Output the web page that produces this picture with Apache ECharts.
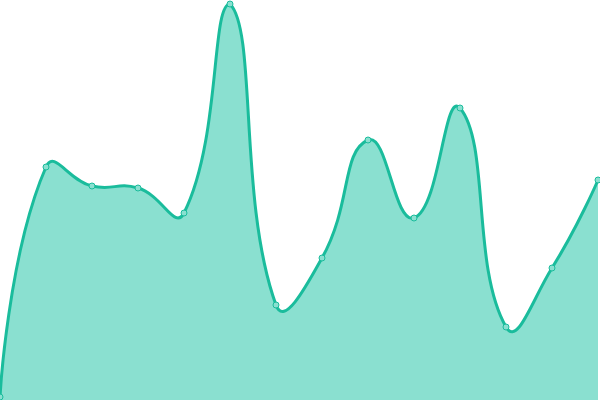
<!DOCTYPE html>
<html>
<head>
<meta charset="utf-8">
<script src="https://cdn.jsdelivr.net/npm/echarts@6/dist/echarts.min.js"></script>
<style>html,body{margin:0;padding:0;background:#fff}#c{width:600px;height:400px}</style>
</head>
<body>
<div id="c"></div>
<script>
var categories = ['1','2','3','4','5','6','7','8','9','10','11','12','13','14'];
var values = [3, 233, 214, 212, 187, 396, 95, 142, 260, 182, 292, 73, 132, 220];

var LINE_COLOR = '#1abc9c';
var AREA_COLOR = '#8ae0d0';
var SMOOTH = 0.5;

// Classic (bounding-box constrained) smooth bezier through pixel points
function smoothPath(pts, smooth) {
  var minX = Infinity, minY = Infinity, maxX = -Infinity, maxY = -Infinity;
  pts.forEach(function (p) {
    minX = Math.min(minX, p[0]); maxX = Math.max(maxX, p[0]);
    minY = Math.min(minY, p[1]); maxY = Math.max(maxY, p[1]);
  });
  function clamp(c) {
    return [Math.max(minX, Math.min(maxX, c[0])), Math.max(minY, Math.min(maxY, c[1]))];
  }
  var d = 'M' + pts[0][0] + ' ' + pts[0][1];
  var cp0 = pts[0].slice();
  for (var k = 1; k < pts.length; k++) {
    var p = pts[k], prev = pts[k - 1], next = pts[k + 1];
    var cp1, vx = 0, vy = 0, ratio = 0.5;
    if (!next) {
      cp1 = p.slice();
    } else {
      vx = next[0] - prev[0]; vy = next[1] - prev[1];
      var l0 = Math.hypot(p[0] - prev[0], p[1] - prev[1]);
      var l1 = Math.hypot(next[0] - p[0], next[1] - p[1]);
      ratio = l1 / (l0 + l1);
      cp1 = [p[0] - vx * smooth * (1 - ratio), p[1] - vy * smooth * (1 - ratio)];
    }
    cp0 = clamp(cp0); cp1 = clamp(cp1);
    d += ' C' + cp0[0] + ' ' + cp0[1] + ' ' + cp1[0] + ' ' + cp1[1] + ' ' + p[0] + ' ' + p[1];
    cp0 = [p[0] + vx * smooth * ratio, p[1] + vy * smooth * ratio];
  }
  return d;
}

var chart = echarts.init(document.getElementById('c'));
chart.setOption({
  animation: false,
  grid: {left: 0, right: 2, top: 0, bottom: 0},
  xAxis: {type: 'category', data: categories, boundaryGap: false, show: false},
  yAxis: {type: 'value', min: 0, max: 400, show: false},
  series: [{
    type: 'custom',
    data: values.map(function (v, i) { return [i, v]; }),
    encode: {x: 0, y: 1},
    renderItem: function (params, api) {
      if (params.dataIndex !== 0) return null;
      var pts = values.map(function (v, i) { return api.coord([i, v]); });
      var base0 = api.coord([0, 0]);
      var baseN = api.coord([values.length - 1, 0]);
      var line = smoothPath(pts, SMOOTH);
      var area = line + ' L' + baseN[0] + ' ' + baseN[1] + ' L' + base0[0] + ' ' + base0[1] + ' Z';
      return {
        type: 'group',
        children: [
          {type: 'path', shape: {pathData: area}, style: {fill: AREA_COLOR, stroke: null}},
          {type: 'path', shape: {pathData: line}, style: {fill: null, stroke: LINE_COLOR, lineWidth: 3, lineJoin: 'round'}}
        ]
      };
    },
    z: 2
  }, {
    type: 'scatter',
    data: values.map(function (v, i) { return [i, v]; }),
    symbol: 'circle',
    symbolSize: 6,
    itemStyle: {color: AREA_COLOR, borderColor: LINE_COLOR, borderWidth: 1, opacity: 1},
    z: 3
  }]
});
</script>
</body>
</html>
